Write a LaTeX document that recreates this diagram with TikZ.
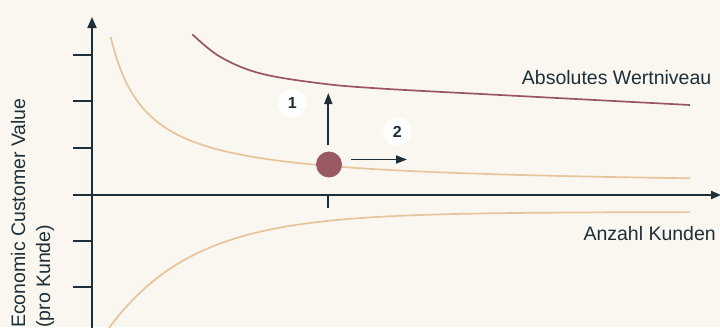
\documentclass[tikz,border=0pt]{standalone}
\usepackage{fontspec}
\setmainfont{Liberation Sans}
\usetikzlibrary{arrows.meta}
\definecolor{bg}{HTML}{FAF7F1}
\definecolor{axiscol}{HTML}{1E2F38}
\definecolor{tan}{HTML}{E8C49A}
\definecolor{mauve}{HTML}{9A5563}
\definecolor{dotcol}{HTML}{9A5A64}
\tikzset{
  axisline/.style={draw=axiscol, line width=2pt},
  tickline/.style={draw=axiscol, line width=1.8pt},
  tancurve/.style={draw=tan, line width=1.7pt},
  mauvecurve/.style={draw=mauve, line width=1.7pt},
  movearrow/.style={draw=axiscol, line width=1.8pt, -{Triangle[length=11pt,width=8pt]}},
  numbadge/.style={circle, fill=white, inner sep=0pt, minimum size=28pt, text=axiscol, font=\fontsize{16}{16}\selectfont\bfseries},
  lbl/.style={text=axiscol, font=\fontsize{19.5}{23}\selectfont, inner sep=0pt}
}
\begin{document}
\begin{tikzpicture}[x=1pt,y=-1pt]
\useasboundingbox (0,0) rectangle (720,327);
\fill[bg] (0,0) rectangle (720,327);
\clip (0,0) rectangle (720,327);
% axes
\coordinate (ybot) at (92,332);
\coordinate (ytop) at (92,17);
\coordinate (xleft) at (73,195);
\coordinate (xright) at (721,195);
\draw[axisline, -{Triangle[length=11pt,width=9pt]}] (ybot) -- (ytop);
\draw[axisline, -{Triangle[length=10pt,width=8pt]}] (xleft) -- (xright);
% y ticks
\foreach \yy/\nm in {55/a,101/b,148/c,241/d,287/e}{
  \coordinate (tl\nm) at (73,\yy);
  \coordinate (tr\nm) at (92,\yy);
  \draw[tickline] (tl\nm) -- (tr\nm);
}
% x tick
\coordinate (xt1) at (328.3,195);
\coordinate (xt2) at (328.3,208);
\draw[tickline] (xt1) -- (xt2);
% curves
\draw[mauvecurve] plot[smooth, tension=0.6] coordinates {(192.3,34.3) (220,56.7) (260,73.3) (320,83.3) (380,88.5) (500,95) (690,105)};
\draw[tancurve] plot[domain=110.7:690, samples=160, smooth] (\x,{187-5357/(\x-75)});
\draw[tancurve] plot[domain=105:690, samples=160, smooth] (\x,{212+114.7*exp(-(\x-110)/85.2)});
% dot
\node[circle, fill=dotcol, inner sep=0pt, minimum size=26pt] (dot) at (329,164.5) {};
% arrows
\coordinate (up1) at (328.3,145);
\coordinate (up2) at (328.3,93);
\coordinate (rt1) at (351,159.5);
\coordinate (rt2) at (407,159.5);
\draw[movearrow] (up1) -- (up2);
\draw[movearrow] (rt1) -- (rt2);
% badges
\node[numbadge] (b1) at (292.3,103.3) {1};
\node[numbadge] (b2) at (397.3,131.7) {2};
% labels
\node[lbl, anchor=base west] (abs) at (521.7,84.3) {Absolutes Wertniveau};
\node[lbl, anchor=base west] (anz) at (583.3,240.7) {Anzahl Kunden};
\node[lbl, anchor=base west, rotate=90] (yl1) at (25,328) {Economic Customer Value};
\node[lbl, anchor=base west, rotate=90] (yl2) at (50,328) {(pro Kunde)};
\end{tikzpicture}
\end{document}
